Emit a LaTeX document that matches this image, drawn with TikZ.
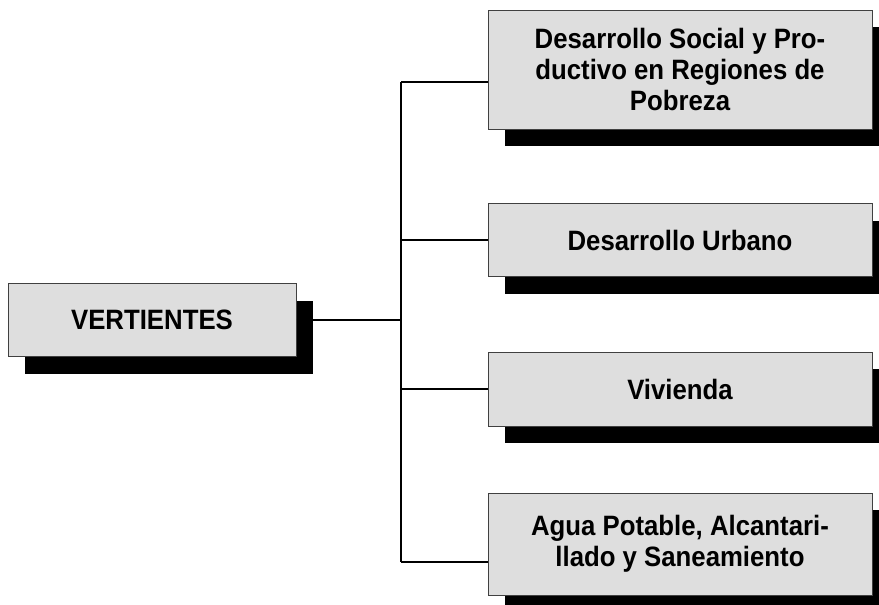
\documentclass[tikz,border=0pt]{standalone}
\usepackage{fontspec}
\setmainfont{Liberation Sans}
\newfontfamily\cajafont[FakeStretch=0.92]{Liberation Sans}
\usetikzlibrary{shadows}

\begin{document}
\begin{tikzpicture}[x=1pt,y=-1pt,
raiz/.style ={rectangle, draw=black!75, line width=1pt, fill=black!13, align=center, minimum width=288pt, minimum height=73pt,
  drop shadow={shadow xshift=17pt, shadow yshift=-17pt, fill=black, opacity=1}, font=\cajafont\bfseries\fontsize{28}{31}\selectfont},
vert/.style={rectangle, draw=black!75, line width=1pt, fill=black!13, align=center, minimum width=384pt,
  drop shadow={shadow xshift=17pt, shadow yshift=-17pt, fill=black, opacity=1}, font=\cajafont\bfseries\fontsize{28}{31}\selectfont},
rama/.style={line width=2pt}]

\useasboundingbox (0,0) rectangle (879,605);

\draw (152,320) node[raiz] (V) {VERTIENTES};
\draw (680,69.5) node[vert, minimum height=119pt] (DS) {Desarrollo Social y Pro-\\ductivo en Regiones de\\Pobreza};
\draw (680,240) node[vert, minimum height=73pt] (DU) {Desarrollo Urbano};
\draw (680,389) node[vert, minimum height=74pt] (Viv) {Vivienda};
\draw (680,544) node[vert, minimum height=102pt] (Agua) {Agua Potable, Alcantari-\\llado y Saneamiento};

\coordinate (Arr) at (401,82);
\coordinate (Ab) at (401,562);

\draw[rama] (Arr)--(Ab);
\draw[rama] (V.east)--(V.east -| Arr);
\draw[rama] (Arr)--(Arr -| DS.west);
\draw[rama] (DU.west -| Arr)--(DU.west);
\draw[rama] (Viv.west -| Arr)--(Viv.west);
\draw[rama] (Ab)--(Ab -| Agua.west);

\end{tikzpicture}
\end{document}
